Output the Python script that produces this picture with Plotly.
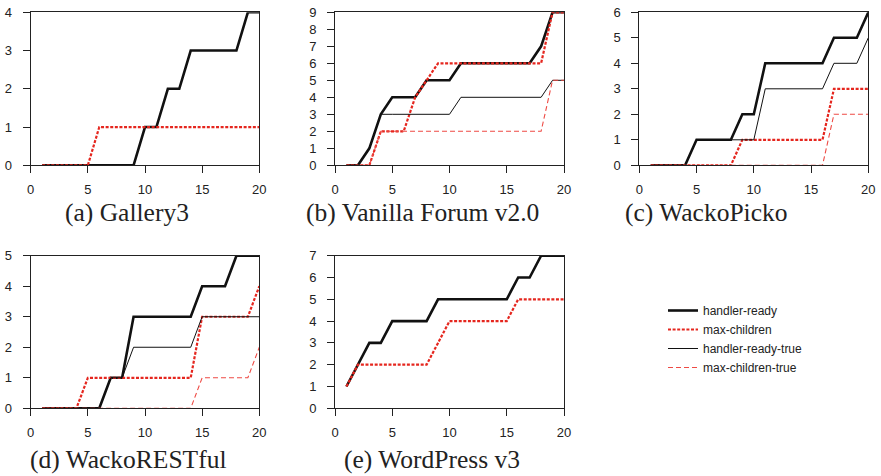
import plotly.graph_objects as go

# ---------------- data ----------------
runs = list(range(1, 21))
x_ticks = [0, 5, 10, 15, 20]

series_names = ["handler-ready", "max-children", "handler-ready-true", "max-children-true"]

captions = ["(a) Gallery3", "(b) Vanilla Forum v2.0", "(c) WackoPicko",
            "(d) WackoRESTful", "(e) WordPress v3"]

gallery3_handler = [0, 0, 0, 0, 0, 0, 0, 0, 0, 1, 1, 2, 2, 3, 3, 3, 3, 3, 4, 4]
gallery3_maxch = [0, 0, 0, 0, 0, 1, 1, 1, 1, 1, 1, 1, 1, 1, 1, 1, 1, 1, 1, 1]

vanilla_handler = [0, 0, 1, 3, 4, 4, 4, 5, 5, 5, 6, 6, 6, 6, 6, 6, 6, 7, 9, 9]
vanilla_maxch = [0, 0, 0, 2, 2, 2, 4, 5, 6, 6, 6, 6, 6, 6, 6, 6, 6, 6, 9, 9]
vanilla_handler_true = [0, 0, 1, 3, 3, 3, 3, 3, 3, 3, 4, 4, 4, 4, 4, 4, 4, 4, 5, 5]
vanilla_maxch_true = [0, 0, 0, 2, 2, 2, 2, 2, 2, 2, 2, 2, 2, 2, 2, 2, 2, 2, 5, 5]

wackopicko_handler = [0, 0, 0, 0, 1, 1, 1, 1, 2, 2, 4, 4, 4, 4, 4, 4, 5, 5, 5, 6]
wackopicko_maxch = [0, 0, 0, 0, 0, 0, 0, 0, 1, 1, 1, 1, 1, 1, 1, 1, 3, 3, 3, 3]
wackopicko_handler_true = [0, 0, 0, 0, 1, 1, 1, 1, 1, 1, 3, 3, 3, 3, 3, 3, 4, 4, 4, 5]
wackopicko_maxch_true = [0, 0, 0, 0, 0, 0, 0, 0, 0, 0, 0, 0, 0, 0, 0, 0, 2, 2, 2, 2]

wackorest_handler = [0, 0, 0, 0, 0, 0, 1, 1, 3, 3, 3, 3, 3, 3, 4, 4, 4, 5, 5, 5]
wackorest_maxch = [0, 0, 0, 0, 1, 1, 1, 1, 1, 1, 1, 1, 1, 1, 3, 3, 3, 3, 3, 4]
wackorest_handler_true = [0, 0, 0, 0, 0, 0, 1, 1, 2, 2, 2, 2, 2, 2, 3, 3, 3, 3, 3, 3]
wackorest_maxch_true = [0, 0, 0, 0, 0, 0, 0, 0, 0, 0, 0, 0, 0, 0, 1, 1, 1, 1, 1, 2]

wordpress_handler = [1, 2, 3, 3, 4, 4, 4, 4, 5, 5, 5, 5, 5, 5, 5, 6, 6, 7, 7, 7]
wordpress_maxch = [1, 2, 2, 2, 2, 2, 2, 2, 3, 4, 4, 4, 4, 4, 4, 5, 5, 5, 5, 5]

y_max = [4, 9, 6, 5, 7]

panels = [
    [gallery3_handler, gallery3_maxch, None, None],
    [vanilla_handler, vanilla_maxch, vanilla_handler_true, vanilla_maxch_true],
    [wackopicko_handler, wackopicko_maxch, wackopicko_handler_true, wackopicko_maxch_true],
    [wackorest_handler, wackorest_maxch, wackorest_handler_true, wackorest_maxch_true],
    [wordpress_handler, wordpress_maxch, None, None],
]

# ---------------- styling / layout ----------------
W, H = 881, 476
styles = [
    dict(color="#111111", width=2.6),
    dict(color="#e5261e", width=2.2, dash="3px,1.6px"),
    dict(color="#111111", width=1.0),
    dict(color="#ee4a44", width=1.1, dash="5px,3px"),
]

# pixel boxes of plot areas: (left, right, top, bottom)
boxes = [
    (30.7, 259.3, 12.3, 165.3),
    (335.0, 564.0, 12.3, 165.3),
    (639.3, 868.3, 12.3, 165.3),
    (30.7, 259.3, 255.7, 408.3),
    (335.0, 564.0, 255.7, 408.3),
]
caption_pos = [(127, 213), (422.5, 212), (706, 212), (127.5, 459), (432, 459)]

fig = go.Figure()
for i, (data, box) in enumerate(zip(panels, boxes)):
    xa = "x" if i == 0 else f"x{i+1}"
    ya = "y" if i == 0 else f"y{i+1}"
    for k, vals in enumerate(data):
        if vals is None:
            continue
        fig.add_trace(go.Scatter(
            x=runs, y=vals, mode="lines", name=series_names[k],
            line=styles[k], xaxis=xa, yaxis=ya,
            showlegend=(i == 1), legendrank=k + 1,
            hoverinfo="skip",
        ))
    l, r, t, b = box
    axis_common = dict(
        showline=True, linecolor="#222222", linewidth=1, mirror=True,
        showgrid=False, zeroline=False, ticks="outside", ticklen=7,
        tickcolor="#222222", tickwidth=1, automargin=False,
        tickfont=dict(family="Liberation Sans, Arial, sans-serif", size=13, color="#222222"),
        fixedrange=True,
    )
    fig.layout[("xaxis" if i == 0 else f"xaxis{i+1}")] = dict(
        domain=[l / W, r / W], range=[0, 20], tickvals=x_ticks,
        anchor=ya, ticklabelstandoff=5, **axis_common)
    fig.layout[("yaxis" if i == 0 else f"yaxis{i+1}")] = dict(
        domain=[1 - b / H, 1 - t / H], range=[0, y_max[i]], dtick=1,
        anchor=xa, ticklabelstandoff=8, **axis_common)
    cx, cy = caption_pos[i]
    fig.add_annotation(
        x=cx / W, y=1 - cy / H, xref="paper", yref="paper",
        text=captions[i], showarrow=False, xanchor="center", yanchor="middle",
        font=dict(family="Liberation Serif, Times New Roman, serif", size=25.5, color="#222222"),
    )

fig.update_layout(
    width=W, height=H,
    margin=dict(l=0, r=0, t=0, b=0, pad=0, autoexpand=False),
    paper_bgcolor="white", plot_bgcolor="white",
    showlegend=True,
    legend=dict(
        x=663 / W, y=1 - 296 / H, xanchor="left", yanchor="top",
        font=dict(family="Liberation Sans, Arial, sans-serif", size=12, color="#222222"),
        bgcolor="rgba(0,0,0,0)", borderwidth=0, traceorder="normal",
        itemwidth=30, tracegroupgap=0,
    ),
)

fig.write_html(
    "out.html",
    config={"displayModeBar": False, "staticPlot": True},
    post_script="document.body.style.margin='0';document.documentElement.style.overflow='hidden';",
)
